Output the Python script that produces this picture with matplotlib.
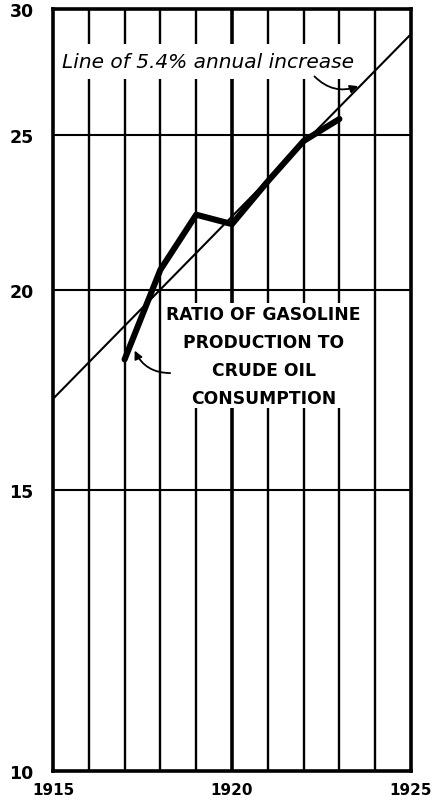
import numpy as np
import matplotlib
matplotlib.use("Agg")
import matplotlib.pyplot as plt
from matplotlib.ticker import FixedLocator, FixedFormatter, NullLocator

# Ratio of gasoline production to crude oil consumption (per cent)
years = [1917, 1918, 1919, 1920, 1921, 1922, 1923]
ratio = [18.1, 20.6, 22.3, 22.0, 23.4, 24.8, 25.6]

# Reference line of constant annual growth
trend_rate = 0.054
trend_base_year = 1915
trend_base_value = 17.1
trend_years = np.array([1915, 1925])
trend_values = trend_base_value * (1 + trend_rate) ** (trend_years - trend_base_year)

y_ticks = [10, 15, 20, 25, 30]
x_ticks = [1915, 1920, 1925]
grid_years = list(range(1916, 1925))
grid_levels = [15, 20, 25]

fig = plt.figure(figsize=(4.33, 8.04), dpi=100)
ax = fig.add_axes([0.1224, 0.0398, 0.9492 - 0.1224, 0.9876 - 0.0398])

ax.set_yscale("log")
ax.set_xlim(1915, 1925)
ax.set_ylim(10, 30)

# grid
for yr in grid_years:
    ax.axvline(yr, color="black", lw=2.6 if yr == 1920 else 1.7, zorder=1)
for lv in grid_levels:
    ax.axhline(lv, color="black", lw=1.5, zorder=1)

ax.yaxis.set_major_locator(FixedLocator(y_ticks))
ax.yaxis.set_major_formatter(FixedFormatter([str(v) for v in y_ticks]))
ax.yaxis.set_minor_locator(NullLocator())
ax.xaxis.set_major_locator(FixedLocator(x_ticks))
ax.xaxis.set_major_formatter(FixedFormatter([str(v) for v in x_ticks]))
ax.tick_params(axis="both", length=0)
ax.tick_params(axis="y", pad=14, labelsize=12.5)
ax.tick_params(axis="x", pad=8, labelsize=11)
for lab in ax.get_xticklabels() + ax.get_yticklabels():
    lab.set_fontweight("bold")

for sp in ax.spines.values():
    sp.set_linewidth(2.6)

# lines
ax.plot(trend_years, trend_values, color="black", lw=1.5, zorder=3)
ax.plot(years, ratio, color="black", lw=4.4, solid_capstyle="round",
        solid_joinstyle="round", zorder=4)

# labels
ax.text(1915.25, 27.8, "Line of 5.4% annual increase", fontsize=14.5,
        style="italic", ha="left", va="center", zorder=2,
        bbox=dict(boxstyle="square,pad=0.4", fc="white", ec="none"))
ax.text(1920.88, 18.2, "RATIO OF GASOLINE\nPRODUCTION TO\nCRUDE OIL\nCONSUMPTION",
        fontsize=12.3, fontweight="bold", ha="center", va="center",
        multialignment="center", linespacing=1.72, zorder=2,
        bbox=dict(boxstyle="square,pad=0.1", fc="white", ec="none"))

def trend_at(yr):
    return trend_base_value * (1 + trend_rate) ** (yr - trend_base_year)

ax.annotate("", xy=(1923.6, trend_at(1923.6)), xytext=(1922.25, 27.3),
            arrowprops=dict(arrowstyle="-|>", color="black", lw=1.3,
                            connectionstyle="arc3,rad=0.35", mutation_scale=12),
            zorder=5)
ax.annotate("", xy=(1917.25, 18.4), xytext=(1918.35, 17.75),
            arrowprops=dict(arrowstyle="-|>", color="black", lw=1.3,
                            connectionstyle="arc3,rad=-0.35", mutation_scale=12),
            zorder=5)

fig.savefig("out.png", dpi=100)
